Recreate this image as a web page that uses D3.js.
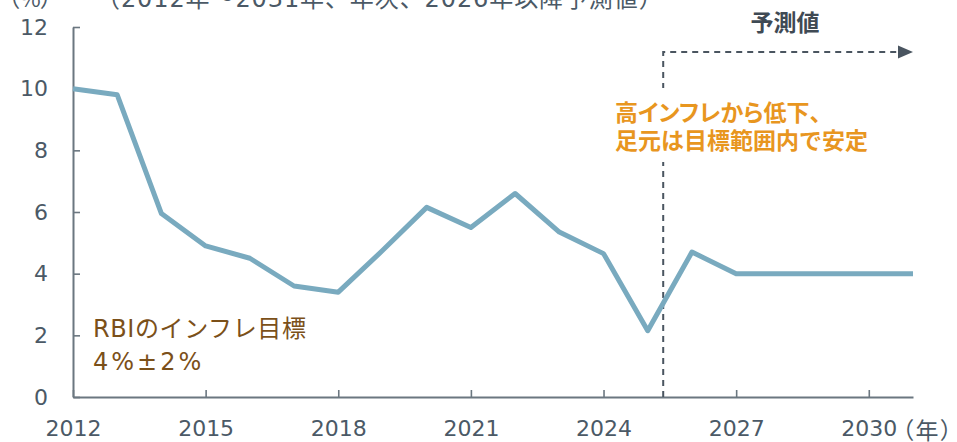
<!DOCTYPE html>
<html>
<head>
<meta charset="utf-8">
<script src="https://cdn.jsdelivr.net/npm/d3@7"></script>
<style>
  html, body { margin:0; padding:0; background:#fff; }
  svg { display:block; }
  text { font-family: "DejaVu Sans", "Noto Sans CJK JP", sans-serif; }
  .jp { font-family: "Noto Sans CJK JP", sans-serif; }
</style>
</head>
<body>
<svg id="chart" width="957" height="442"></svg>
<script>
// India CPI, annual (2026 onward = forecast)
const years = d3.range(2012, 2032);
const cpi = [10.0, 9.8, 5.95, 4.9, 4.5, 3.6, 3.4, 4.75, 6.15, 5.5, 6.6, 5.35, 4.65, 2.15, 4.7, 4.0, 4.0, 4.0, 4.0, 4.0];
const xTicks = [2012, 2015, 2018, 2021, 2024, 2027, 2030];
const yTicks = [0, 2, 4, 6, 8, 10, 12];
const forecastStart = 2025.35;

const titleText = "（2012年～2031年、年次、2026年以降予測値）";
const unitText = "（%）";
const yearUnit = "（年）";
const forecastLabel = "予測値";
const noteLines = ["高インフレから低下、", "足元は目標範囲内で安定"];
const targetLines = ["RBIのインフレ目標", "4%±2%"];

const axisColor = "#6b7780", labelColor = "#4b5966";

function draw(){
  const svg = d3.select("#chart");
  const x = d3.scaleLinear().domain([2012, 2031]).range([73, 913]);
  const y = d3.scaleLinear().domain([0, 12]).range([397, 27]);

  // title (cut off at top) and unit
  svg.append("text").attr("x", 96).attr("y", 7)
    .attr("font-size", 24).attr("letter-spacing", 0.9).attr("fill", labelColor).text(titleText);
  svg.append("text").attr("class","jp").attr("x", 8).attr("y", 7)
    .attr("font-size", 23).attr("fill", labelColor)
    .style("font-feature-settings", "'palt'").text(unitText);

  // axes
  const gx = svg.append("g").attr("transform", `translate(0,${y(0)})`)
    .call(d3.axisBottom(x).tickValues(xTicks).tickFormat(d3.format("d"))
      .tickSizeInner(-7).tickSizeOuter(0).tickPadding(23));
  const gy = svg.append("g").attr("transform", `translate(${x(2012)},0)`)
    .call(d3.axisLeft(y).tickValues(yTicks).tickSizeInner(-7).tickSizeOuter(0).tickPadding(25));
  [gx, gy].forEach(g=>{
    g.select(".domain").attr("stroke", axisColor).attr("stroke-width", 2);
    g.selectAll(".tick line").attr("stroke", axisColor).attr("stroke-width", 1.6);
    g.selectAll(".tick text").attr("fill", labelColor).attr("font-size", 22)
      .attr("font-family", "\"DejaVu Sans\", sans-serif");
  });
  svg.append("text").attr("class","jp").attr("x", 902).attr("y", 439)
    .attr("font-size", 23).attr("letter-spacing", 2).attr("fill", labelColor)
    .style("font-feature-settings", "'palt'").text(yearUnit);

  // forecast marker: dashed line + arrow
  const fx = x(forecastStart), top = 52;
  const dashed = d3.path();
  dashed.moveTo(fx, y(0)); dashed.lineTo(fx, top); dashed.lineTo(x(2031) - 14, top);
  svg.append("path").attr("d", dashed.toString()).attr("fill","none")
    .attr("stroke", "#4a5560").attr("stroke-width", 2).attr("stroke-dasharray", "6,5");
  const tip = x(2031);
  svg.append("path")
    .attr("d", `M${tip},${top} L${tip-15},${top-6.5} L${tip-15},${top+6.5} Z`)
    .attr("fill", "#4a5560");
  svg.append("text").attr("class","jp").attr("x", 785).attr("y", 31)
    .attr("text-anchor","middle").attr("font-size", 23).attr("font-weight", 700)
    .attr("fill", "#3f4a54").text(forecastLabel);

  // white box behind the orange note, so the dashed line breaks there
  svg.append("rect").attr("x", fx - 6).attr("y", 88).attr("width", 270).attr("height", 74)
    .attr("fill", "#fff");
  svg.append("g").selectAll("text").data(noteLines).enter().append("text")
    .attr("class","jp").attr("x", 615).attr("y", (d,i)=>121 + i*28)
    .attr("font-size", 23).attr("font-weight", 700).attr("fill", "#e8961f")
    .style("font-feature-settings", (d,i)=> i === 0 ? "'palt'" : "normal")
    .text(d=>d);

  // CPI line
  const line = d3.line().x((d,i)=>x(years[i])).y(d=>y(d));
  svg.append("path").datum(cpi).attr("d", line).attr("fill","none")
    .attr("stroke", "#79aabf").attr("stroke-width", 5).attr("stroke-linejoin","round");

  // RBI target note
  svg.append("g").selectAll("text").data(targetLines).enter().append("text")
    .attr("x", 93).attr("y", (d,i)=>337 + i*33)
    .attr("font-size", 24).attr("fill", "#7b5019")
    .attr("letter-spacing", (d,i)=> i === 0 ? 0.6 : 3)
    .text(d=>d);
}
window.addEventListener("DOMContentLoaded", draw);
</script>
</body>
</html>
